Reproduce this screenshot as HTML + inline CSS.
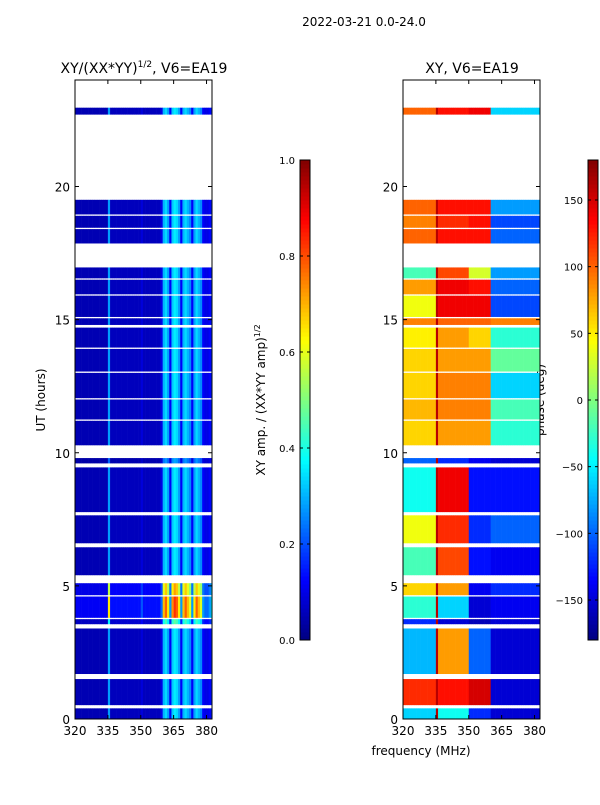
<!DOCTYPE html>
<html><head><meta charset="utf-8"><style>
html,body{margin:0;padding:0;background:#fff;}
svg text{font-family:"DejaVu Sans","Liberation Sans",sans-serif;fill:#000;}
</style></head><body>
<svg id="fig" width="600" height="800" viewBox="0 0 600 800" xmlns="http://www.w3.org/2000/svg">
<text x="364" y="26" font-size="12" text-anchor="middle">2022-03-21 0.0-24.0</text>
<text x="144" y="73" font-size="14" text-anchor="middle">XY/(XX*YY)<tspan font-size="9" dy="-6">1/2</tspan><tspan dy="6">, V6=EA19</tspan></text>
<text x="472" y="73" font-size="14" text-anchor="middle">XY, V6=EA19</text>
<text transform="translate(45,400) rotate(-90)" font-size="12" text-anchor="middle">UT (hours)</text>
<text x="421" y="755" font-size="12" text-anchor="middle">frequency (MHz)</text>
<text transform="translate(265,400) rotate(-90)" font-size="12" text-anchor="middle">XY amp. / (XX*YY amp)<tspan font-size="8" dy="-5">1/2</tspan></text>
<text transform="translate(544,400) rotate(-90)" font-size="12" text-anchor="middle">phase (deg)</text>
<g id="left"></g>
<g id="right"></g>
<g id="cb1"></g>
<g id="cb2"></g>
</svg>
<script>
const segStart=[0.0,0.52,1.69,3.56,3.8,4.65,5.4,6.6,7.77,9.6,10.28,11.25,12.05,13.05,13.95,14.8,15.1,15.95,16.55,17.86,18.45,18.95,22.7];
const segEnd  =[0.4,1.5,3.4,3.75,4.6,5.1,6.45,7.65,9.45,9.8,11.2,12.0,13.0,13.9,14.7,15.05,15.9,16.5,16.96,18.4,18.9,19.5,22.96];
const segGain =[1,1,1,1.3,2.3,2.0,1,1,1,0.8,1,1,1,1,1,1,1,1,1,1,1,1,1];
const phaseLow =[-60,120,-70,-120,-30,60,-20,40,-40,-100,60,70,60,60,50,90,40,80,-20,100,90,100,100];
const phaseMid =[-40,130,80,-150,-60,80,110,120,140,-120,80,90,90,80,80,100,140,140,110,130,120,130,130];
const phaseMid2=[-120,150,-100,-160,-150,-140,-130,-120,-130,-140,80,90,90,80,60,100,140,130,30,130,130,130,140];
const phaseHigh=[-150,-150,-150,-150,-140,-120,-140,-100,-130,-150,-30,-20,-60,-10,-30,90,-110,-100,-80,-100,-110,-80,-60];
const chanAmp=[0.05,0.05,0.05,0.05,0.05,0.05,0.05,0.05,0.05,0.05,0.05,0.05,0.05,0.05,0.05,0.28,
0.06,0.06,0.06,0.06,0.06,0.06,0.06,0.06,0.06,0.06,0.06,0.06,0.06,0.06,0.09,0.06,0.06,0.06,0.06,0.06,0.06,0.06,0.06,
0.1,0.3,0.34,0.28,0.12,0.32,0.36,0.34,0.28,0.12,0.3,0.34,0.3,0.26,0.12,0.28,0.34,0.3,0.26,0.12,0.1,0.1,0.12,0.16];
const xTicks=[320,335,350,365,380];
const yTicks=[0,5,10,15,20];
const ampTicks=[0.0,0.2,0.4,0.6,0.8,1.0];
const phaseTicks=[-150,-100,-50,0,50,100,150];

const NS='http://www.w3.org/2000/svg';
const X0=320,X1=382.5,Y0=0,Y1=24,PT=80,PB=719;
function yS(h){return PB-(h-Y0)/(Y1-Y0)*(PB-PT);}
function jet(v){v=Math.max(0,Math.min(1,v));
 const r=Math.max(0,Math.min(1,Math.min(4*v-1.5,-4*v+4.5)));
 const g=Math.max(0,Math.min(1,Math.min(4*v-0.5,-4*v+3.5)));
 const b=Math.max(0,Math.min(1,Math.min(4*v+0.5,-4*v+2.5)));
 return `rgb(${Math.round(r*255)},${Math.round(g*255)},${Math.round(b*255)})`;}
function mk(tag,attrs,parent){const e=document.createElementNS(NS,tag);for(const k in attrs)e.setAttribute(k,attrs[k]);parent.appendChild(e);return e;}
function phaseAt(s,f){if(f<335)return phaseLow[s];if(f<350)return phaseMid[s];if(f<360)return phaseMid2[s];return phaseHigh[s];}

function panel(gid,L,kind){
 const g=document.getElementById(gid);const W=137;
 const xS=f=>L+(f-X0)/(X1-X0)*W;
 for(let s=0;s<segStart.length;s++){
  const y1=yS(segEnd[s]),y2=yS(segStart[s]);
  for(let c=0;c<chanAmp.length;c++){
   const f=X0+c;if(f>=X1)break;
   const x1=xS(f),x2=xS(Math.min(f+1,X1));
   let v;
   if(kind==='amp')v=chanAmp[c]*segGain[s];
   else{let p=phaseAt(s,f);if(c===15)p=160;v=(p+180)/360;}
   const r=mk('rect',{x:x1.toFixed(2),y:y1.toFixed(2),width:(x2-x1+0.3).toFixed(2),height:(y2-y1).toFixed(2),fill:jet(v)},g);
   
   
  }
 }
 const fr=mk('rect',{x:L,y:PT,width:W,height:PB-PT,fill:'none',stroke:'#000','stroke-width':1},g);
 
 
 xTicks.forEach(t=>{const x=xS(t);
  mk('line',{x1:x,x2:x,y1:PB,y2:PB-4,stroke:'#000'},g);mk('line',{x1:x,x2:x,y1:PT,y2:PT+4,stroke:'#000'},g);
  const tx=mk('text',{x:x,y:PB+16,'font-size':12,'text-anchor':'middle'},g);tx.textContent=t;
  
  });
 yTicks.forEach(t=>{const y=yS(t);
  mk('line',{x1:L,x2:L+4,y1:y,y2:y,stroke:'#000'},g);mk('line',{x1:L+W,x2:L+W-4,y1:y,y2:y,stroke:'#000'},g);
  const tx=mk('text',{x:L-5,y:y+5,'font-size':12,'text-anchor':'end'},g);tx.textContent=t;
  
  });
}
panel('left',75,'amp');
panel('right',403,'phase');

function colorbar(gid,L,lo,hi,ticks){
 const g=document.getElementById(gid);const T=160,B=640,N=120;
 for(let i=0;i<N;i++){const y=B-(i+1)*(B-T)/N;
  mk('rect',{x:L,y:y.toFixed(2),width:10,height:((B-T)/N+0.5).toFixed(2),fill:jet((i+0.5)/N)},g);}
 mk('rect',{x:L,y:T,width:10,height:B-T,fill:'none',stroke:'#000'},g);
 ticks.forEach(t=>{const y=B-(t-lo)/(hi-lo)*(B-T);
  mk('line',{x1:L,x2:L+3,y1:y,y2:y,stroke:'#000'},g);mk('line',{x1:L+10,x2:L+7,y1:y,y2:y,stroke:'#000'},g);
  const tx=mk('text',{x:L-5,y:y+4,'font-size':10,'text-anchor':'end'},g);
  tx.textContent=(hi<=1?t.toFixed(1):String(t).replace('-','\u2212'));
  
  });
}
colorbar('cb1',300,0,1,ampTicks);
colorbar('cb2',588,-180,180,phaseTicks);
</script>
</body></html>
